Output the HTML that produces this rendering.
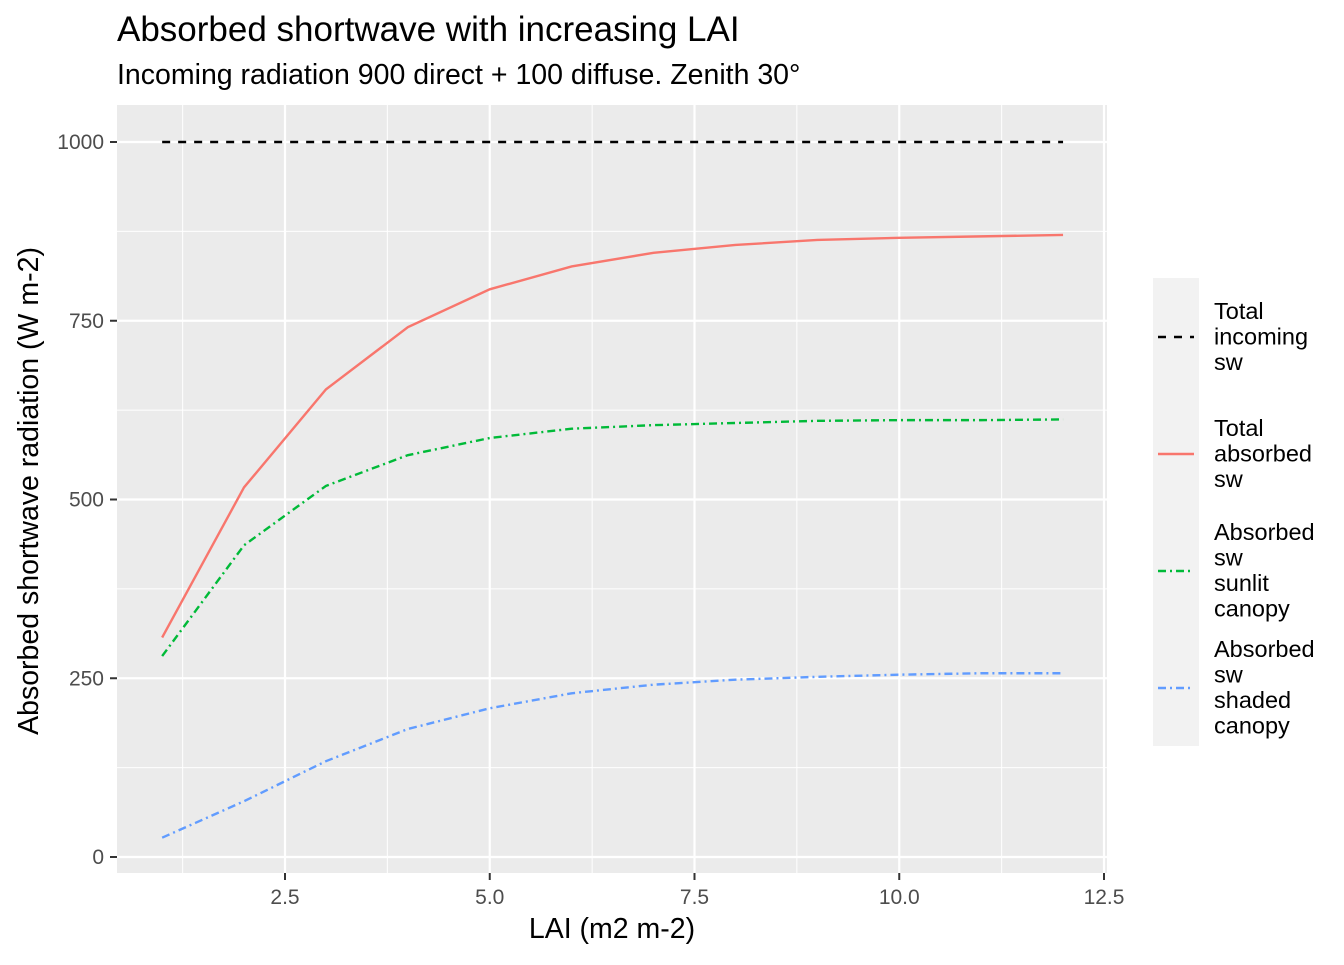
<!DOCTYPE html>
<html><head><meta charset="utf-8"><style>
body{margin:0;background:#fff;font-family:"Liberation Sans",sans-serif}
svg text{font-family:"Liberation Sans",sans-serif}
</style></head><body>
<svg id="chart" width="1344" height="960" xmlns="http://www.w3.org/2000/svg">
<text x="117" y="41" font-size="35" fill="#000">Absorbed shortwave with increasing LAI</text>
<text x="117" y="84" font-size="28.5" fill="#000">Incoming radiation 900 direct + 100 diffuse. Zenith 30°</text>
<rect x="117" y="105" width="990" height="768" fill="#ebebeb"/>
<g id="grid"></g>
<g id="series"></g>
<g id="axes"></g>
<text x="612" y="938" font-size="28.5" text-anchor="middle">LAI (m2 m-2)</text>
<text transform="translate(38,491) rotate(-90)" font-size="28.5" text-anchor="middle">Absorbed shortwave radiation (W m-2)</text>
<g>
<rect x="1153" y="278" width="46" height="468" fill="#f2f2f2"/>
<line x1="1158" y1="337" x2="1194" y2="337" stroke="#000" stroke-width="2.4" stroke-dasharray="8,8"/>
<line x1="1158" y1="454" x2="1194" y2="454" stroke="#F8766D" stroke-width="2.4"/>
<line x1="1158" y1="571" x2="1194" y2="571" stroke="#00BA38" stroke-width="2.4" stroke-dasharray="8,4,2,4"/>
<line x1="1158" y1="688" x2="1194" y2="688" stroke="#619CFF" stroke-width="2.4" stroke-dasharray="8,4,2,4"/>
<g font-size="23.5" fill="#000">
<text x="1214" y="319">Total<tspan x="1214" dy="25.5">incoming</tspan><tspan x="1214" dy="25.5">sw</tspan></text>
<text x="1214" y="436">Total<tspan x="1214" dy="25.5">absorbed</tspan><tspan x="1214" dy="25.5">sw</tspan></text>
<text x="1214" y="540">Absorbed<tspan x="1214" dy="25.5">sw</tspan><tspan x="1214" dy="25.5">sunlit</tspan><tspan x="1214" dy="25.5">canopy</tspan></text>
<text x="1214" y="657">Absorbed<tspan x="1214" dy="25.5">sw</tspan><tspan x="1214" dy="25.5">shaded</tspan><tspan x="1214" dy="25.5">canopy</tspan></text>
</g></g>
</svg>
<script>
const lai=[1,2,3,4,5,6,7,8,9,10,11,12];
const incoming=[1000,1000,1000,1000,1000,1000,1000,1000,1000,1000,1000,1000];
const totalAbs=[307,517,654,741,794,826,845,856,863,866,868,870];
const sunlit=[281,436,519,562,586,599,604,607,610,611,611,612];
const shaded=[27,78,134,179,208,229,241,248,252,255,257,257];
const xTicks=[2.5,5.0,7.5,10.0,12.5];
const xTickLabels=["2.5","5.0","7.5","10.0","12.5"];
const yTicks=[0,250,500,750,1000];
const yTickLabels=["0","250","500","750","1000"];
const NS="http://www.w3.org/2000/svg";
const X=v=>285+(v-2.5)*81.9;
const Y=v=>857-v*0.715;
function mk(t,a,p){const e=document.createElementNS(NS,t);for(const k in a)e.setAttribute(k,a[k]);p.appendChild(e);return e;}
const g=document.getElementById('grid'),s=document.getElementById('series'),ax=document.getElementById('axes');
xTicks.forEach((t,i)=>{
 const m=t-1.25;
 let l=mk('line',{x1:X(m),x2:X(m),y1:105,y2:873,stroke:'#fff','stroke-width':1},g);
 
 l=mk('line',{x1:X(t),x2:X(t),y1:105,y2:873,stroke:'#fff','stroke-width':2.2},g);
 
 const tk=mk('line',{x1:X(t),x2:X(t),y1:873,y2:880,stroke:'#333','stroke-width':2},ax);
 
 const tx=mk('text',{x:X(t),y:904,'font-size':21,'text-anchor':'middle',fill:'#4d4d4d'},ax);
 tx.textContent=xTickLabels[i];
 
});
yTicks.forEach((t,i)=>{
 if(i>0){const m=t-125;let l=mk('line',{x1:117,x2:1107,y1:Y(m),y2:Y(m),stroke:'#fff','stroke-width':1},g);
 }
 let l=mk('line',{x1:117,x2:1107,y1:Y(t),y2:Y(t),stroke:'#fff','stroke-width':2.2},g);
 
 const tk=mk('line',{x1:110,x2:117,y1:Y(t),y2:Y(t),stroke:'#333','stroke-width':2},ax);
 
 const tx=mk('text',{x:104,y:Y(t)+7,'font-size':21,'text-anchor':'end',fill:'#4d4d4d'},ax);
 tx.textContent=yTickLabels[i];
 
});
function line(vals,color,dash,name){
 const p=mk('polyline',{points:lai.map((x,i)=>X(x)+','+Y(vals[i])).join(' '),fill:'none',stroke:color,'stroke-width':2.4,'stroke-dasharray':dash},s);
 
}
line(incoming,'#000','8,8','line-total-incoming');
line(totalAbs,'#F8766D','none','line-total-absorbed');
line(sunlit,'#00BA38','8,4,2,4','line-sunlit');
line(shaded,'#619CFF','8,4,2,4','line-shaded');
</script>
</body></html>
